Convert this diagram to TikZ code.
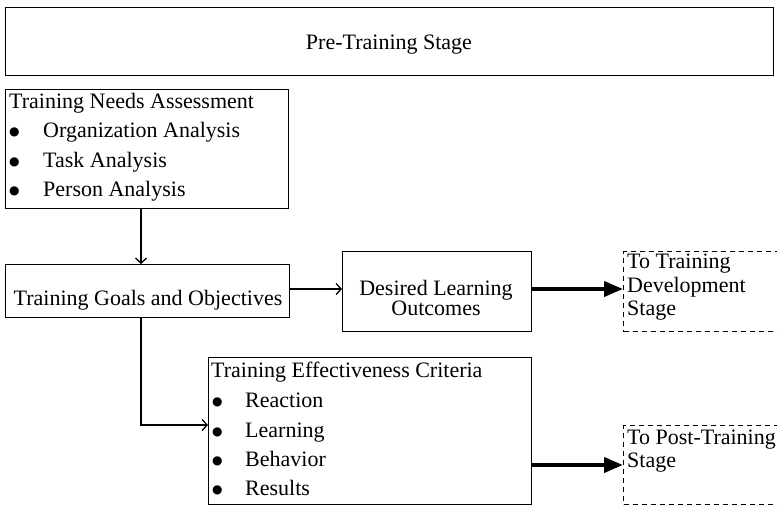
\documentclass[tikz,border=0pt]{standalone}
\usepackage{fontspec}
\setmainfont{Liberation Serif}
\newfontfamily\bulletfont{DejaVu Sans}
\usetikzlibrary{arrows.meta}
\begin{document}
\begin{tikzpicture}[x=1pt,y=-1pt,
  box/.style={draw,line width=1.3pt,inner sep=0pt,anchor=north west},
  dbox/.style={draw,dash pattern=on 5pt off 4pt,line width=1pt,inner sep=0pt,anchor=north west},
  txt/.style={font=\fontsize{22}{26}\selectfont,inner sep=0pt,anchor=base west},
  ctxt/.style={txt,anchor=base},
  bul/.style={font=\bulletfont\fontsize{12}{14}\selectfont,inner sep=0pt,anchor=base west},
  thinarrow/.style={line width=1.3pt,-{Straight Barb[length=5pt,width=11pt,line width=1.3pt]}},
  thickarrow/.style={line width=4pt,-{Triangle[length=19pt,width=15pt]}}]
\clip (0,0) rectangle (777,506);
% boxes
\node[box,minimum width=768pt,minimum height=68pt] (pre) at (5,7) {};
\node[box,minimum width=283pt,minimum height=119pt] (tna) at (5,89) {};
\node[box,minimum width=284pt,minimum height=53pt] (tgo) at (5,264) {};
\node[box,minimum width=189pt,minimum height=80pt] (dlo) at (342,251) {};
\node[dbox,minimum width=200pt,minimum height=80pt] (dev) at (623,251) {};
\node[box,minimum width=323pt,minimum height=147pt] (tec) at (208,357) {};
\node[dbox,minimum width=200pt,minimum height=79pt] (post) at (623,425) {};
% texts
\node[ctxt] (tpre) at (389,49) {Pre-Training Stage};
\node[txt] (tnah) at (9,108) {Training Needs Assessment};
\node[bul] (tnab1) at (9,135) {●};
\node[bul] (tnab2) at (9,165) {●};
\node[bul] (tnab3) at (9,194) {●};
\node[txt] (tnai1) at (43,137) {Organization Analysis};
\node[txt] (tnai2) at (43,167) {Task Analysis};
\node[txt] (tnai3) at (43,196) {Person Analysis};
\node[ctxt] (ttgo) at (148,305) {Training Goals and Objectives};
\node[ctxt] (tdlo1) at (436,295) {Desired Learning};
\node[ctxt] (tdlo2) at (436,315) {Outcomes};
\node[txt] (tdev1) at (627,268) {To Training};
\node[txt] (tdev2) at (627,292) {Development};
\node[txt] (tdev3) at (627,315) {Stage};
\node[txt] (tech) at (211,377) {Training Effectiveness Criteria};
\node[bul] (tecb1) at (212,405) {●};
\node[bul] (tecb2) at (212,435) {●};
\node[bul] (tecb3) at (212,464) {●};
\node[bul] (tecb4) at (212,493) {●};
\node[txt] (teci1) at (245,407) {Reaction};
\node[txt] (teci2) at (245,437) {Learning};
\node[txt] (teci3) at (245,466) {Behavior};
\node[txt] (teci4) at (245,495) {Results};
\node[txt] (tpost1) at (627,444) {To Post-Training};
\node[txt] (tpost2) at (627,467) {Stage};
% connectors
\coordinate (ax) at (141,0);
\coordinate (ay1) at (0,289);
\coordinate (ay2) at (0,425);
\coordinate (ay3) at (0,465);
\draw[thinarrow] (tna.south -| ax) -- (tgo.north -| ax);
\draw[thinarrow] (tgo.east |- ay1) -- (dlo.west |- ay1);
\draw[thickarrow] (dlo.east |- ay1) -- (dev.west |- ay1);
\draw[thinarrow] (tgo.south -| ax) |- (tec.west |- ay2);
\draw[thickarrow] (tec.east |- ay3) -- (post.west |- ay3);
\end{tikzpicture}
\end{document}
